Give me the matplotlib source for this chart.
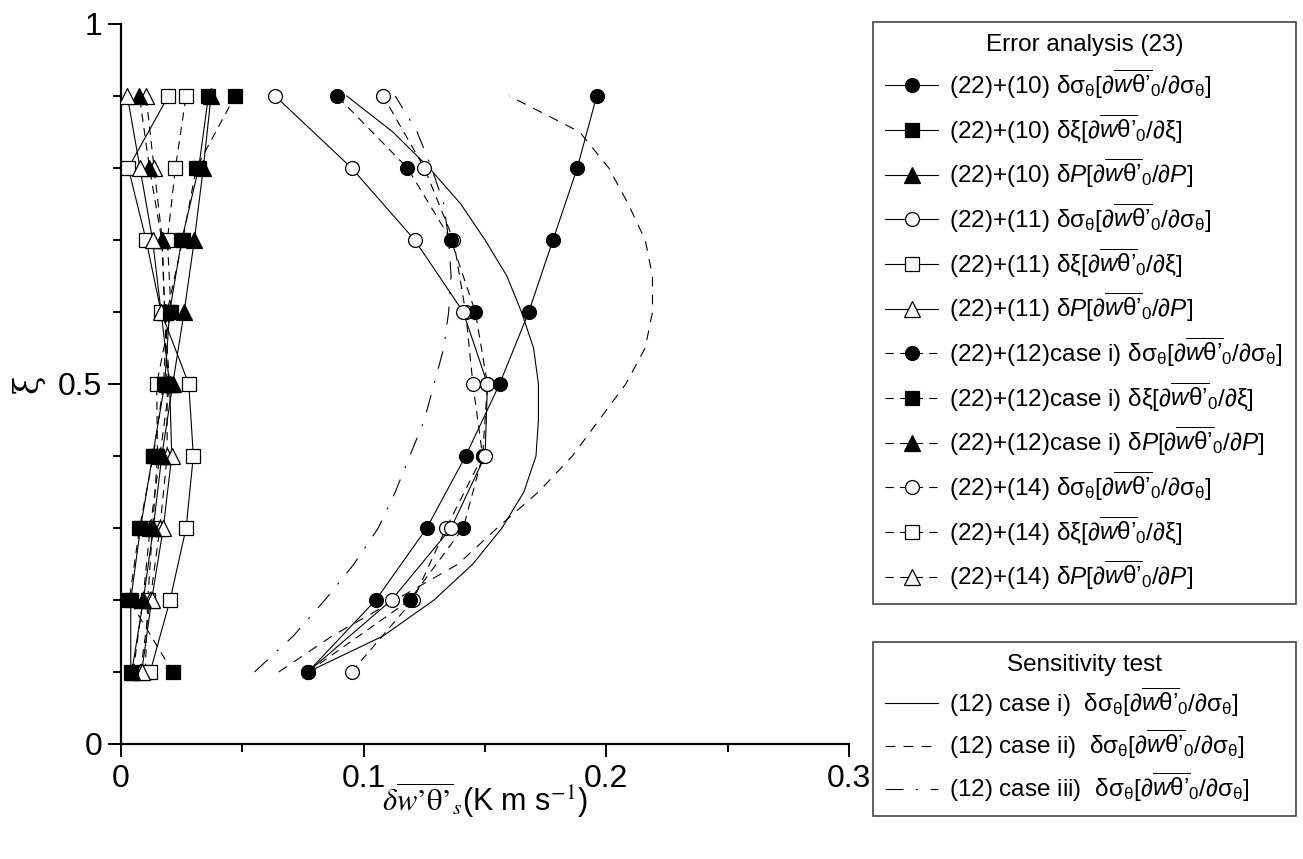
import matplotlib
matplotlib.use("Agg")
import matplotlib.pyplot as plt
from matplotlib.ticker import MultipleLocator, FixedLocator

plt.rcParams["font.family"] = ["Liberation Sans", "DejaVu Sans"]
plt.rcParams["mathtext.fontset"] = "custom"
plt.rcParams["mathtext.rm"] = "Liberation Sans"
plt.rcParams["mathtext.it"] = "Liberation Sans:italic"
plt.rcParams["mathtext.bf"] = "Liberation Sans:bold"
plt.rcParams["lines.scale_dashes"] = False

# levels of xi where the error analysis was evaluated
xi = [0.1, 0.2, 0.3, 0.4, 0.5, 0.6, 0.7, 0.8, 0.9]

# (22)+(10)
e10_sig = [0.077, 0.105, 0.126, 0.142, 0.156, 0.168, 0.178, 0.188, 0.196]
e10_xi = [0.004, 0.004, 0.008, 0.013, 0.018, 0.020, 0.025, 0.032, 0.036]
e10_P = [0.0044, 0.0092, 0.0133, 0.0168, 0.0213, 0.026, 0.0302, 0.0339, 0.0371]
# (22)+(11)
e11_sig = [0.077, 0.1115, 0.136, 0.150, 0.151, 0.141, 0.121, 0.095, 0.0635]
e11_xi = [0.012, 0.0202, 0.0268, 0.0298, 0.0279, 0.0165, 0.0103, 0.003, 0.0195]
e11_P = [0.0085, 0.0126, 0.0174, 0.0209, 0.020, 0.0165, 0.013, 0.0078, 0.0026]
# (22)+(12) case i
e12_sig = [0.077, 0.119, 0.141, 0.149, 0.151, 0.146, 0.136, 0.118, 0.089]
e12_xi = [0.0213, 0.0034, 0.0076, 0.0133, 0.0175, 0.019, 0.0254, 0.031, 0.047]
e12_P = [0.005, 0.009, 0.012, 0.016, 0.020, 0.018, 0.0168, 0.0117, 0.0076]
# (22)+(14)
e14_sig = [0.095, 0.1204, 0.134, 0.149, 0.145, 0.142, 0.137, 0.125, 0.108]
e14_xi = [0.010, 0.011, 0.013, 0.015, 0.0147, 0.0206, 0.0191, 0.0224, 0.0268]
e14_P = [0.008, 0.012, 0.016, 0.019, 0.019, 0.018, 0.017, 0.0136, 0.0103]

# sensitivity test curves
xi_s = [0.1, 0.15, 0.2, 0.25, 0.3, 0.35, 0.4, 0.45, 0.5,
        0.55, 0.6, 0.65, 0.7, 0.75, 0.8, 0.85, 0.9]
case_i = [0.077, 0.108, 0.129, 0.145, 0.157, 0.166, 0.171, 0.172, 0.172,
          0.170, 0.165, 0.159, 0.150, 0.140, 0.127, 0.112, 0.093]
case_ii = [0.065, 0.087, 0.113, 0.139, 0.155, 0.172, 0.186, 0.197, 0.208,
           0.216, 0.219, 0.219, 0.216, 0.209, 0.201, 0.189, 0.160]
case_iii = [0.055, 0.071, 0.084, 0.096, 0.106, 0.113, 0.119, 0.125, 0.129,
            0.133, 0.135, 0.136, 0.135, 0.133, 0.128, 0.122, 0.113]

x_ticks = [0, 0.1, 0.2, 0.3]
x_ticklabels = ["0", "0.1", "0.2", "0.3"]
y_ticks = [0, 0.5, 1]
y_ticklabels = ["0", "0.5", "1"]

frac = r"[$\partial\overline{w\mathrm{\theta’}}_\mathrm{0}$/$\partial$"
lab_sig = r"δσ$_\mathrm{\theta}$" + frac + r"σ$_\mathrm{\theta}$]"
lab_xi = r"δξ" + frac + r"ξ]"
lab_P = r"δ$P$" + frac + r"$P$]"

err_series = [
    ("(22)+(10) ", e10_sig, e10_xi, e10_P, "k", "-"),
    ("(22)+(11) ", e11_sig, e11_xi, e11_P, "white", "-"),
    ("(22)+(12)case i) ", e12_sig, e12_xi, e12_P, "k", "--"),
    ("(22)+(14) ", e14_sig, e14_xi, e14_P, "white", "--"),
]

fig = plt.figure(figsize=(13.03, 8.59), dpi=100)
ax = fig.add_axes([0.0929, 0.1339, 0.5587, 0.8382])

lw = 0.8
err_dash = (6, 4.5)

handles = {}
for z, (prefix, s_sig, s_xi, s_P, fc, ls) in enumerate(err_series):
    kw = dict(color="k", lw=lw, mfc=fc, mec="k", mew=0.9)
    if ls == "--":
        kw["dashes"] = err_dash
    zo = 10 - z
    h1, = ax.plot(s_sig, xi, marker="o", ms=10, zorder=zo, **kw)
    h2, = ax.plot(s_xi, xi, marker="s", ms=9.5, zorder=zo, **kw)
    h3, = ax.plot(s_P, xi, marker="^", ms=11, zorder=zo, **kw)
    handles[prefix] = [(h1, prefix + lab_sig), (h2, prefix + lab_xi),
                       (h3, prefix + lab_P)]

c1, = ax.plot(case_i, xi_s, color="k", lw=lw)
c2, = ax.plot(case_ii, xi_s, color="k", lw=lw, dashes=(7, 6))
c3, = ax.plot(case_iii, xi_s, color="k", lw=lw, dashes=(13, 9, 1.5, 9))

ax.set_xlim(0, 0.3)
ax.set_ylim(0, 1)
ax.xaxis.set_major_locator(FixedLocator(x_ticks))
ax.set_xticklabels(x_ticklabels)
ax.xaxis.set_minor_locator(MultipleLocator(0.05))
ax.yaxis.set_major_locator(FixedLocator(y_ticks))
ax.set_yticklabels(y_ticklabels)
ax.yaxis.set_minor_locator(MultipleLocator(0.1))
for s in ax.spines.values():
    s.set_linewidth(1.6)
ax.spines["top"].set_visible(False)
ax.spines["right"].set_visible(False)
ax.tick_params(which="both", direction="out", width=1.4, labelsize=23)
ax.tick_params(which="major", length=9.5)
ax.tick_params(which="minor", length=5.5)
ax.tick_params(axis="x", pad=5)
ax.tick_params(axis="y", pad=4)

ax.set_xlabel(r"$\delta\overline{w’\mathrm{\theta}’}_s$(K m s$^{\mathrm{-1}}$)",
              fontsize=22, math_fontfamily="stix")
ax.xaxis.set_label_coords(0.5, -0.05)
ax.set_ylabel("ξ", fontsize=24, family="DejaVu Serif")
ax.yaxis.set_label_coords(-0.105, 0.5)

err_items = []
for prefix, *_ in err_series:
    err_items += handles[prefix]

leg_kw = dict(loc="upper left", mode="expand", bbox_transform=fig.transFigure,
              borderaxespad=0, fontsize=17.5, title_fontsize=17.5, fancybox=False,
              framealpha=1, edgecolor="#444444", handlelength=2.2,
              handletextpad=0.45, borderpad=0.5)
leg1 = fig.legend([h for h, _ in err_items], [t for _, t in err_items],
                  bbox_to_anchor=(0.6698, 0.2934, 0.3248, 0.681),
                  title="Error analysis (23)", labelspacing=0.48, **leg_kw)
leg1.get_frame().set_linewidth(1.2)

sens_lab = [r"(12) case i)  " + lab_sig,
            r"(12) case ii)  " + lab_sig,
            r"(12) case iii)  " + lab_sig]
leg2 = fig.legend([c1, c2, c3], sens_lab,
                  bbox_to_anchor=(0.6698, 0.0536, 0.3248, 0.1994),
                  title="Sensitivity test", labelspacing=0.4, **leg_kw)
leg2.get_frame().set_linewidth(1.2)

fig.savefig("out.png", dpi=100)
